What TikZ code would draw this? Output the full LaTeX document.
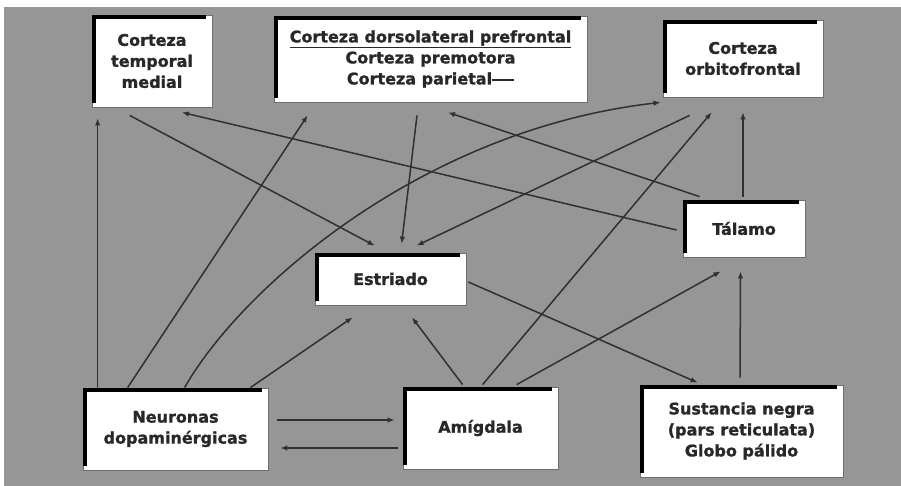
\documentclass[tikz,border=0pt]{standalone}
\usepackage{fontspec}
\setmainfont{DejaVu Sans}[BoldFeatures={FakeBold=1.2}]
\usetikzlibrary{arrows.meta,calc}
\definecolor{bgc}{RGB}{150,150,150}
\definecolor{linec}{RGB}{48,48,48}
\definecolor{txtc}{RGB}{40,40,40}
\definecolor{edgec}{RGB}{110,110,110}
\tikzset{
  box/.style={draw=edgec, line width=0.8pt, fill=white, inner sep=0pt, align=center,
    text=txtc, font=\fontsize{16}{21}\selectfont\bfseries},
  conn/.style={draw=linec, line width=1.5pt, -{Latex[length=7pt,width=5.5pt]}},
  bar/.style={draw=black, line width=4pt, line cap=butt, line join=miter}
}
\begin{document}
\begin{tikzpicture}[x=1pt,y=-1pt]
\useasboundingbox (0,0) rectangle (901,486);
\fill[bgc] (4,7) rectangle (901,486);

% boxes
\node[box, minimum width=120pt, minimum height=92pt] (tm) at (152,61) {Corteza\\temporal\\medial};
\node[box, minimum width=313pt, minimum height=86pt] (dl) at (430.5,59)
  {\underline{Corteza dorsolateral prefrontal}\\Corteza premotora\\Corteza parietal\rule[3pt]{22pt}{2pt}};
\node[box, minimum width=160pt, minimum height=77pt] (of) at (743,58.5) {Corteza\\orbitofrontal};
\node[box, minimum width=122pt, minimum height=57pt] (ta) at (744,228.5) {Tálamo};
\node[box, minimum width=151pt, minimum height=52pt] (es) at (390.5,279) {Estriado};
\node[box, minimum width=185pt, minimum height=82pt] (ne) at (175.5,429) {Neuronas\\dopaminérgicas};
\node[box, minimum width=155pt, minimum height=82pt] (am) at (480.5,428) {Amígdala};
\node[box, minimum width=203pt, minimum height=92pt] (sn) at (741.5,431) {Sustancia negra\\(pars reticulata)\\Globo pálido};

% thick black left/top edges
\foreach \n in {tm,dl,of,ta,es,ne,am,sn}{
  \draw[bar] ([shift={(2,-4)}]\n.south west) -- ([shift={(2,2)}]\n.north west) -- ([shift={(-6,2)}]\n.north east);
}

% connectors
\draw[conn] ([shift={(15,0)}]ne.north west) -- ([shift={(6,11)}]tm.south west);
\draw[conn] ([shift={(45,0)}]ne.north west) -- ([shift={(34,13)}]dl.south west);
\draw[conn] ([shift={(102,0)}]ne.north west) .. controls (240,290) and (420,130) .. ([shift={(-2,5)}]of.south west);
\draw[conn] ([shift={(-18,0)}]ne.north east) -- ([shift={(38,12)}]es.south west);
\draw[conn] ([shift={(9,-9)}]ne.east) -- ([shift={(-8,-8)}]am.west);
\draw[conn] ([shift={(-5,20)}]am.west) -- ([shift={(12,19)}]ne.east);
\draw[conn] ([shift={(60,-2)}]am.north west) -- ([shift={(21.5,12)}]es.south);
\draw[conn] ([shift={(80,-2)}]am.north west) -- ([shift={(49,15)}]of.south west);
\draw[conn] ([shift={(114,-2)}]am.north west) -- ([shift={(38,14)}]ta.south west);
\draw[conn] ([shift={(2,3)}]es.east) -- ([shift={(58,-2)}]sn.north west);
\draw[conn] ([shift={(-1.5,-7)}]sn.north) -- ([shift={(-3.5,14)}]ta.south);
\draw[conn] ([shift={(-1,-3)}]ta.north) -- ([shift={(0,15)}]of.south);
\draw[conn] ([shift={(-6,1.5)}]ta.west) -- ([shift={(30,5)}]tm.south);
\draw[conn] ([shift={(17,-3)}]ta.north west) -- ([shift={(17.5,10)}]dl.south);
\draw[conn] ([shift={(38,8)}]tm.south west) -- ([shift={(60,-7)}]es.north west);
\draw[conn] ([shift={(-13.5,13)}]dl.south) -- ([shift={(87,-9)}]es.north west);
\draw[conn] ([shift={(27,18)}]of.south west) -- ([shift={(102,-7)}]es.north west);
\end{tikzpicture}
\end{document}
